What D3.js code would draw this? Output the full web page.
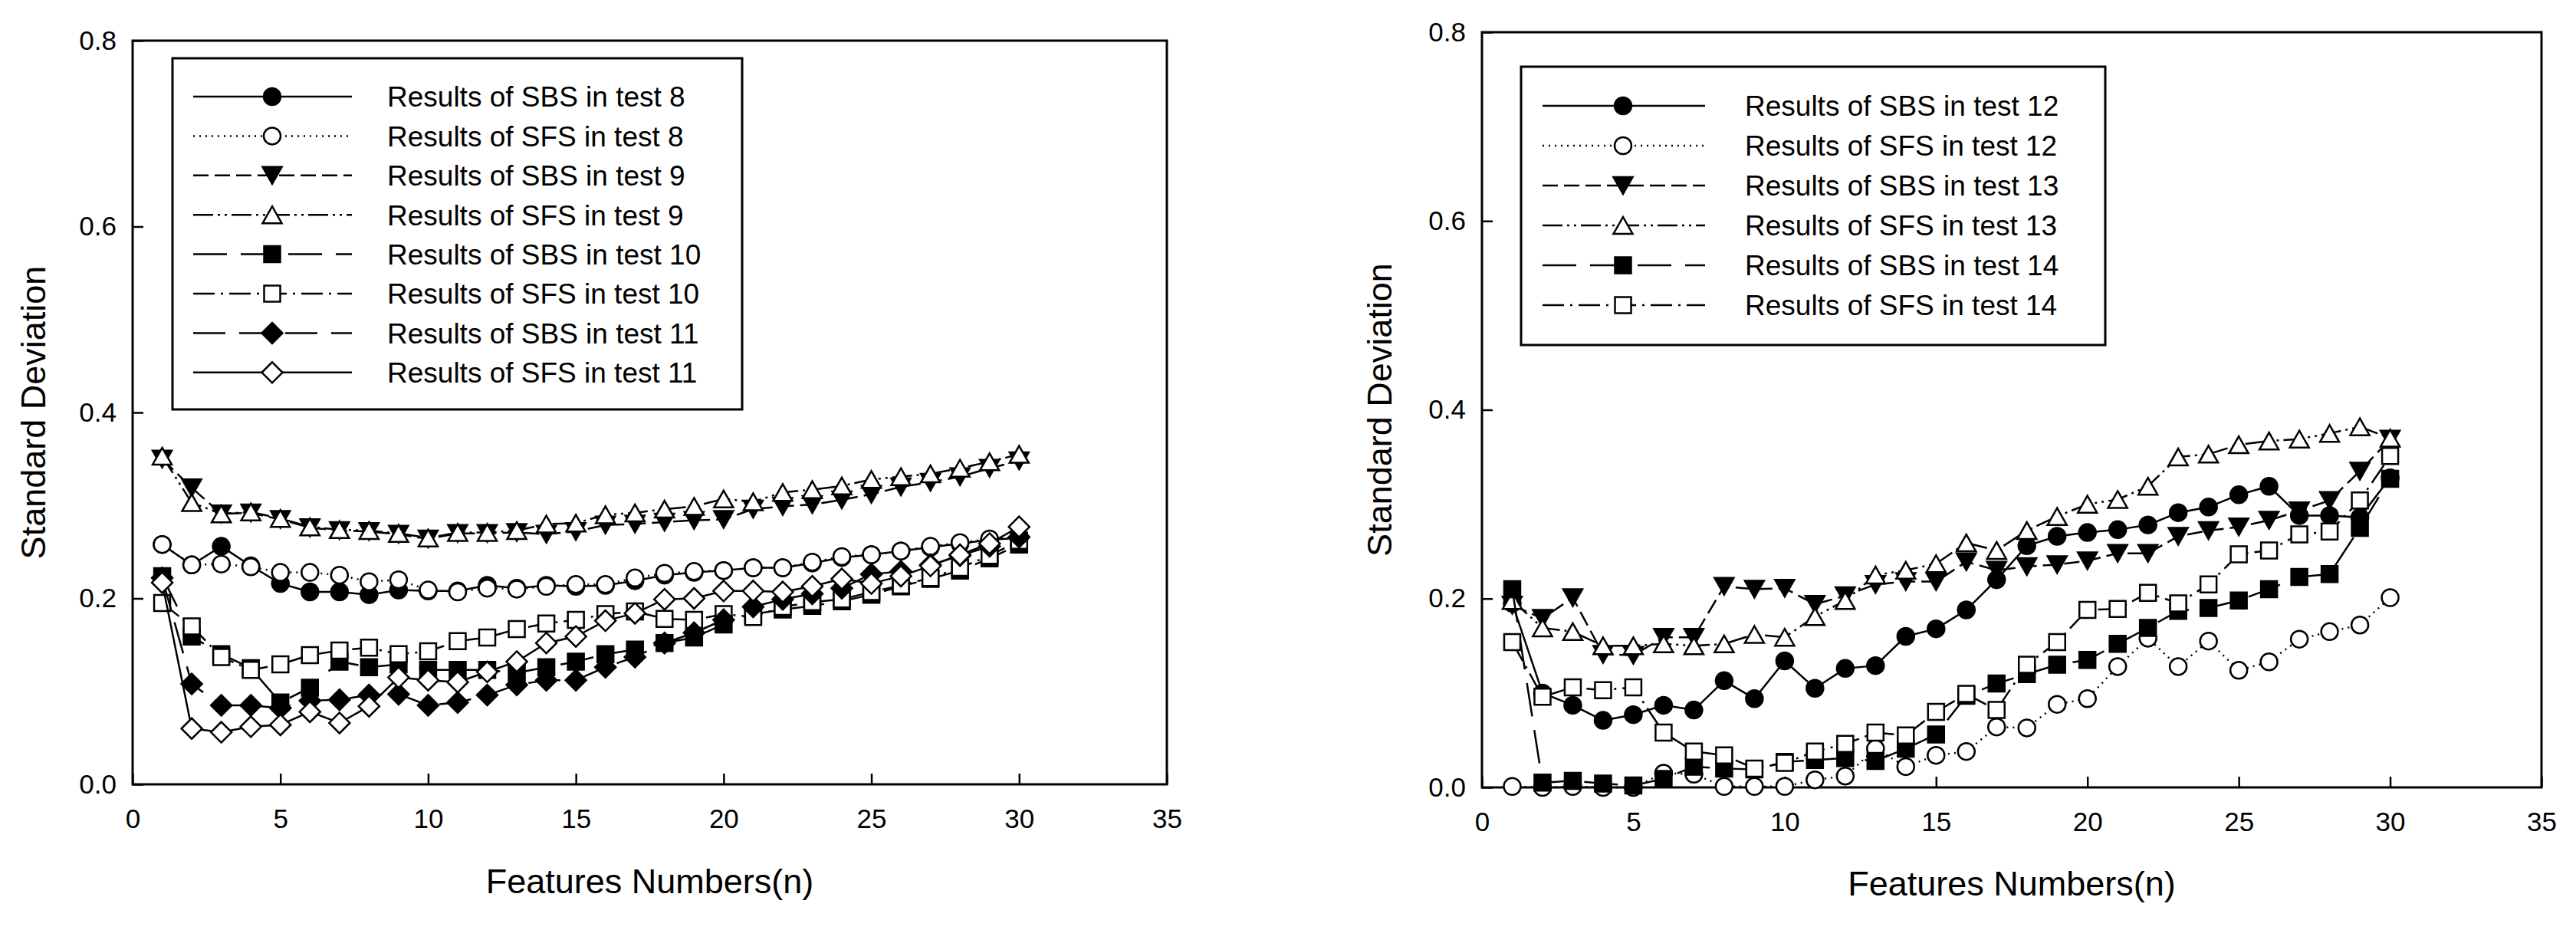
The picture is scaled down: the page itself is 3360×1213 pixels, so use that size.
<!DOCTYPE html>
<html>
<head>
<meta charset="utf-8">
<script src="https://cdn.jsdelivr.net/npm/d3@7"></script>
<style>
  html, body { margin: 0; padding: 0; background: #fff; }
  svg { display: block; }
  text { font-family: "Liberation Sans", Arial, sans-serif; fill: #000; }
</style>
</head>
<body>
<svg id="chart" width="3360" height="1213"></svg>
<script>
// ---------- DATA ----------
const features = [1,2,3,4,5,6,7,8,9,10,11,12,13,14,15,16,17,18,19,20,21,22,23,24,25,26,27,28,29,30];
const xTickValues = [0,5,10,15,20,25,30,35];
const yTickValues = [0.0,0.2,0.4,0.6,0.8];

// Left panel (tests 8-11)
const sbs8  = [0.258,0.236,0.256,0.235,0.216,0.207,0.207,0.204,0.209,0.208,0.208,0.214,0.211,0.214,0.213,0.214,0.219,0.225,0.228,0.230,0.233,0.233,0.238,0.244,0.247,0.251,0.255,0.259,0.263,0.265];
const sfs8  = [0.258,0.236,0.237,0.234,0.228,0.228,0.225,0.218,0.220,0.209,0.207,0.211,0.210,0.213,0.215,0.215,0.222,0.227,0.229,0.230,0.233,0.233,0.239,0.245,0.247,0.251,0.256,0.260,0.264,0.266];
const sbs9  = [0.350,0.319,0.291,0.292,0.285,0.276,0.273,0.272,0.269,0.264,0.270,0.270,0.271,0.269,0.272,0.279,0.280,0.282,0.284,0.285,0.296,0.299,0.301,0.306,0.312,0.320,0.325,0.331,0.340,0.348];
const sfs9  = [0.353,0.303,0.291,0.293,0.286,0.277,0.274,0.273,0.270,0.265,0.271,0.271,0.273,0.280,0.281,0.290,0.292,0.296,0.299,0.307,0.304,0.314,0.317,0.321,0.328,0.331,0.334,0.340,0.347,0.355];
const sbs10 = [0.224,0.159,0.140,0.125,0.088,0.104,0.132,0.126,0.129,0.123,0.123,0.123,0.120,0.126,0.132,0.140,0.145,0.152,0.158,0.172,0.183,0.188,0.192,0.197,0.204,0.213,0.221,0.230,0.243,0.258];
const sfs10 = [0.195,0.170,0.137,0.123,0.129,0.139,0.144,0.147,0.140,0.143,0.154,0.158,0.167,0.173,0.177,0.183,0.186,0.178,0.177,0.183,0.180,0.191,0.196,0.199,0.207,0.214,0.222,0.233,0.246,0.262];
const sbs11 = [0.222,0.108,0.085,0.085,0.082,0.090,0.091,0.096,0.097,0.085,0.088,0.096,0.107,0.112,0.112,0.126,0.137,0.152,0.163,0.177,0.191,0.199,0.205,0.211,0.226,0.229,0.236,0.246,0.256,0.266];
const sfs11 = [0.217,0.060,0.056,0.062,0.064,0.078,0.066,0.084,0.115,0.112,0.110,0.121,0.132,0.152,0.159,0.176,0.184,0.199,0.200,0.208,0.208,0.207,0.213,0.221,0.216,0.224,0.235,0.247,0.259,0.277];

// Right panel (tests 12-14)
const sbs12 = [0.195,0.100,0.087,0.071,0.077,0.087,0.082,0.113,0.094,0.134,0.105,0.126,0.129,0.160,0.168,0.188,0.220,0.256,0.266,0.270,0.273,0.278,0.291,0.297,0.310,0.319,0.288,0.288,0.286,0.328];
const sfs12 = [0.001,0.000,0.001,0.000,0.000,0.015,0.014,0.001,0.001,0.001,0.008,0.012,0.041,0.022,0.034,0.038,0.064,0.063,0.088,0.094,0.128,0.158,0.128,0.155,0.124,0.133,0.157,0.165,0.172,0.201];
const sbs13 = [0.193,0.179,0.201,0.141,0.140,0.159,0.159,0.213,0.210,0.211,0.194,0.203,0.215,0.218,0.218,0.239,0.230,0.234,0.236,0.240,0.248,0.248,0.266,0.272,0.276,0.283,0.293,0.304,0.335,0.369];
const sfs13 = [0.198,0.169,0.165,0.150,0.150,0.152,0.150,0.152,0.162,0.159,0.181,0.198,0.225,0.230,0.237,0.259,0.251,0.272,0.287,0.300,0.305,0.319,0.350,0.353,0.363,0.367,0.369,0.375,0.382,0.370];
const sbs14 = [0.210,0.005,0.007,0.004,0.002,0.009,0.022,0.020,0.019,0.027,0.029,0.031,0.028,0.041,0.056,0.097,0.110,0.120,0.130,0.135,0.152,0.169,0.187,0.190,0.198,0.210,0.223,0.226,0.275,0.327];
const sfs14 = [0.154,0.096,0.106,0.103,0.106,0.058,0.038,0.034,0.020,0.026,0.038,0.046,0.058,0.055,0.080,0.099,0.082,0.130,0.154,0.188,0.189,0.206,0.195,0.215,0.247,0.251,0.268,0.271,0.304,0.351];

const xTitle = "Features Numbers(n)";
const yTitle = "Standard Deviation";

// ---------- STYLES ----------
const styleSBSa = { marker: "circle",   fill: "#000", dash: null };
const styleSFSa = { marker: "circle",   fill: "#fff", dash: "2,6" };
const styleSBSb = { marker: "triDown",  fill: "#000", dash: "20,8" };
const styleSFSb = { marker: "triUp",    fill: "#fff", dash: "26,6,3,6,3,6" };
const styleSBSc = { marker: "square",   fill: "#000", dash: "44,18" };
const styleSFSc = { marker: "square",   fill: "#fff", dash: "28,8,3,8" };
const styleSBSd = { marker: "diamond",  fill: "#000", dash: "42,18" };
const styleSFSd = { marker: "diamond",  fill: "#fff", dash: null };

const panels = [
  {
    box: { left: 173, right: 1522, top: 53, bottom: 1023 },
    legend: { left: 225, top: 76, right: 968, bottom: 534, row0: 126, rowStep: 51.4, lineX1: 252, lineX2: 459, markX: 355, textX: 505 },
    yTitleX: 59, xTitleY: 1165,
    series: [
      { name: "Results of SBS in test 8",  values: sbs8,  ...styleSBSa },
      { name: "Results of SFS in test 8",  values: sfs8,  ...styleSFSa },
      { name: "Results of SBS in test 9",  values: sbs9,  ...styleSBSb },
      { name: "Results of SFS in test 9",  values: sfs9,  ...styleSFSb },
      { name: "Results of SBS in test 10", values: sbs10, ...styleSBSc },
      { name: "Results of SFS in test 10", values: sfs10, ...styleSFSc },
      { name: "Results of SBS in test 11", values: sbs11, ...styleSBSd },
      { name: "Results of SFS in test 11", values: sfs11, ...styleSFSd }
    ]
  },
  {
    box: { left: 1933, right: 3315, top: 42, bottom: 1027 },
    legend: { left: 1984, top: 87, right: 2746, bottom: 450, row0: 138, rowStep: 52, lineX1: 2012, lineX2: 2224, markX: 2117, textX: 2276 },
    yTitleX: 1815, xTitleY: 1168,
    series: [
      { name: "Results of SBS in test 12", values: sbs12, ...styleSBSa },
      { name: "Results of SFS in test 12", values: sfs12, ...styleSFSa },
      { name: "Results of SBS in test 13", values: sbs13, ...styleSBSb },
      { name: "Results of SFS in test 13", values: sfs13, ...styleSFSb },
      { name: "Results of SBS in test 14", values: sbs14, ...styleSBSc },
      { name: "Results of SFS in test 14", values: sfs14, ...styleSFSc }
    ]
  }
];

// ---------- DRAW ----------
const svg = d3.select("#chart");
svg.append("rect").attr("width", 3360).attr("height", 1213).attr("fill", "#fff");

function markerPath(type) {
  const r = 11, s = 10.5, d = 13.5, tw = 12.5, th = 11;
  switch (type) {
    case "square":  return `M${-s},${-s}H${s}V${s}H${-s}Z`;
    case "diamond": return `M0,${-d}L${d},0L0,${d}L${-d},0Z`;
    case "triUp":   return `M0,${-th}L${tw},${th}L${-tw},${th}Z`;
    case "triDown": return `M0,${th}L${tw},${-th}L${-tw},${-th}Z`;
    default:        return `M${r},0A${r},${r} 0 1,1 ${-r},0A${r},${r} 0 1,1 ${r},0Z`;
  }
}

panels.forEach(p => {
  const b = p.box;
  const x = d3.scaleLinear().domain([0, 35]).range([b.left, b.right]);
  const y = d3.scaleLinear().domain([0, 0.8]).range([b.bottom, b.top]);
  const g = svg.append("g");

  // axes with inward ticks
  const xAxis = d3.axisBottom(x).tickValues(xTickValues).tickSize(-14).tickPadding(32).tickFormat(d3.format("d"));
  const yAxis = d3.axisLeft(y).tickValues(yTickValues).tickSize(-14).tickPadding(21).tickFormat(d3.format(".1f"));
  const gx = g.append("g").attr("transform", `translate(0,${b.bottom})`).call(xAxis);
  const gy = g.append("g").attr("transform", `translate(${b.left},0)`).call(yAxis);
  [gx, gy].forEach(ax => {
    ax.select(".domain").remove();
    ax.selectAll(".tick line").attr("stroke", "#000").attr("stroke-width", 2.5);
    ax.selectAll(".tick text").attr("font-size", 35).attr("font-family", "'Liberation Sans', Arial, sans-serif").attr("fill", "#000");
  });

  // frame
  g.append("rect")
    .attr("x", b.left).attr("y", b.top)
    .attr("width", b.right - b.left).attr("height", b.bottom - b.top)
    .attr("fill", "none").attr("stroke", "#000").attr("stroke-width", 3);

  // titles
  g.append("text")
    .attr("x", (b.left + b.right) / 2).attr("y", p.xTitleY)
    .attr("text-anchor", "middle").attr("font-size", 45)
    .text(xTitle);
  g.append("text")
    .attr("transform", `translate(${p.yTitleX},${(b.top + b.bottom) / 2}) rotate(-90)`)
    .attr("text-anchor", "middle").attr("font-size", 45)
    .text(yTitle);

  // legend box
  const L = p.legend;
  g.append("rect")
    .attr("x", L.left).attr("y", L.top)
    .attr("width", L.right - L.left).attr("height", L.bottom - L.top)
    .attr("fill", "#fff").attr("stroke", "#000").attr("stroke-width", 3);

  // series
  const line = d3.line().x((d, i) => x(features[i])).y(d => y(d));
  p.series.forEach(s => {
    const sg = g.append("g");
    sg.append("path")
      .attr("d", line(s.values))
      .attr("fill", "none").attr("stroke", "#000").attr("stroke-width", 2.5)
      .attr("stroke-dasharray", s.dash);
    sg.selectAll("path.mk").data(s.values).join("path")
      .attr("class", "mk")
      .attr("transform", (d, i) => `translate(${x(features[i])},${y(d)})`)
      .attr("d", markerPath(s.marker))
      .attr("fill", s.fill).attr("stroke", "#000").attr("stroke-width", 2.5);
  });

  // legend entries
  p.series.forEach((s, i) => {
    const cy = L.row0 + i * L.rowStep;
    g.append("line")
      .attr("x1", L.lineX1).attr("x2", L.lineX2).attr("y1", cy).attr("y2", cy)
      .attr("stroke", "#000").attr("stroke-width", 2.5)
      .attr("stroke-dasharray", s.dash);
    g.append("path")
      .attr("transform", `translate(${L.markX},${cy})`)
      .attr("d", markerPath(s.marker))
      .attr("fill", s.fill).attr("stroke", "#000").attr("stroke-width", 2.5);
    g.append("text")
      .attr("x", L.textX).attr("y", cy).attr("dy", "0.36em")
      .attr("font-size", 37)
      .text(s.name);
  });
});
</script>
</body>
</html>
